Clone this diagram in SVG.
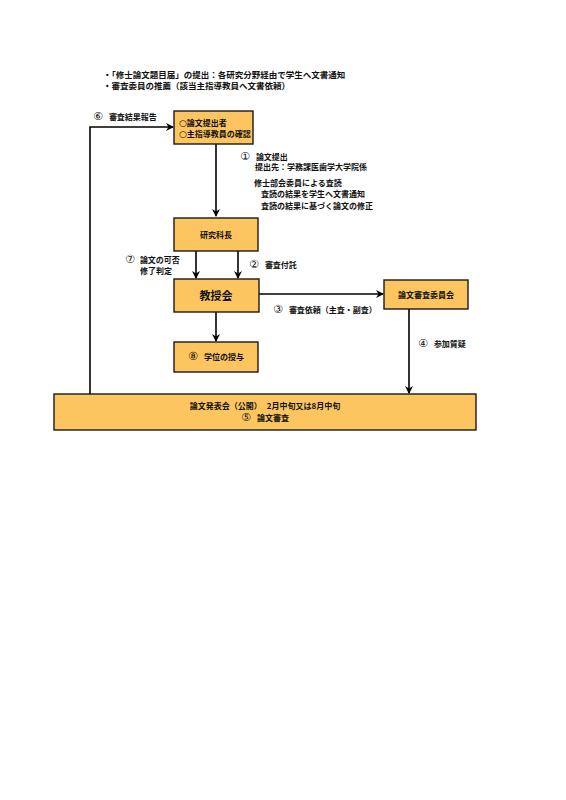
<svg xmlns="http://www.w3.org/2000/svg" width="566" height="800" viewBox="0 0 566 800">
<defs>
<marker id="ah" markerWidth="8" markerHeight="8" refX="7" refY="4" orient="auto" markerUnits="userSpaceOnUse">
<path d="M0,0 L8,4 L0,8 L2.5,4 Z" fill="#000"/>
</marker>
<style>
.box{fill:#FCC55F;stroke:#1a1a1a;stroke-width:1.4}
.t{font-family:"Noto Sans CJK JP","Noto Sans CJK SC",sans-serif;font-size:8px;font-weight:bold;fill:#111}
.n{font-size:8.5px}
.tl{font-family:"Noto Sans CJK JP","Noto Sans CJK SC",sans-serif;font-size:11px;font-weight:bold;fill:#111}
.c{text-anchor:middle}
.num{font-family:"DejaVu Sans",sans-serif;font-size:11px;font-weight:normal}
.ln{fill:none;stroke:#000;stroke-width:1.6}
</style>
</defs>
<rect width="566" height="800" fill="#fff"/>
<g id="notes">
<text class="t n" x="103" y="78">・「修士論文題目届」の提出：各研究分野経由で学生へ文書通知</text>
<text class="t n" x="103" y="89">・審査委員の推薦（該当主指導教員へ文書依頼）</text>
</g>
<g id="connectors">
<line class="ln" x1="216" y1="144" x2="216" y2="216" marker-end="url(#ah)"/>
<line class="ln" x1="196" y1="251" x2="196" y2="278" marker-end="url(#ah)"/>
<line class="ln" x1="238" y1="251" x2="238" y2="278" marker-end="url(#ah)"/>
<line class="ln" x1="216" y1="312" x2="216" y2="341" marker-end="url(#ah)"/>
<line class="ln" x1="259" y1="294" x2="383" y2="294" marker-end="url(#ah)"/>
<line class="ln" x1="409" y1="309" x2="409" y2="393" marker-end="url(#ah)"/>
<polyline class="ln" points="90,394 90,127 173,127" marker-end="url(#ah)"/>
<text class="t" x="93" y="120"><tspan class="num">⑥</tspan><tspan dx="6">審査結果報告</tspan></text>
<text class="t" x="240" y="160"><tspan class="num">①</tspan><tspan dx="6">論文提出</tspan></text>
<text class="t" x="255" y="170">提出先：学務課医歯学大学院係</text>
<text class="t" x="254" y="186">修士部会委員による査読</text>
<text class="t" x="261" y="197">査読の結果を学生へ文書通知</text>
<text class="t" x="261" y="209">査読の結果に基づく論文の修正</text>
<text class="t" x="125" y="263"><tspan class="num">⑦</tspan><tspan dx="5">論文の可否</tspan></text>
<text class="t" x="140" y="274">修了判定</text>
<text class="t" x="249" y="268"><tspan class="num">②</tspan><tspan dx="6">審査付託</tspan></text>
<text class="t" x="273" y="313"><tspan class="num">③</tspan><tspan dx="6">審査依頼（主査・副査）</tspan></text>
<text class="t" x="418" y="347"><tspan class="num">④</tspan><tspan dx="6">参加質疑</tspan></text>
</g>
<g id="n_submit">
<rect class="box" x="174" y="111" width="79" height="33"/>
<text class="t" x="179" y="126"><tspan class="num" style="font-size:9px">○</tspan>論文提出者</text>
<text class="t" x="179" y="137"><tspan class="num" style="font-size:9px">○</tspan>主指導教員の確認</text>
</g>
<g id="n_dean">
<rect class="box" x="174" y="218" width="84" height="33"/>
<text class="t c" x="216" y="238">研究科長</text>
</g>
<g id="n_faculty">
<rect class="box" x="174" y="279" width="85" height="33"/>
<text class="tl c" x="216" y="300">教授会</text>
</g>
<g id="n_degree">
<rect class="box" x="174" y="342" width="84" height="30"/>
<text class="t c" x="216" y="360"><tspan class="num">⑧</tspan><tspan dx="6">学位の授与</tspan></text>
</g>
<g id="n_committee">
<rect class="box" x="384" y="280" width="84" height="29"/>
<text class="t c" x="426" y="298">論文審査委員会</text>
</g>
<g id="n_presentation">
<rect class="box" x="54" y="394" width="422" height="36"/>
<text class="t c" x="265" y="409">論文発表会（公開）<tspan dx="5">2月中旬又は8月中旬</tspan></text>
<text class="t c" x="265" y="421"><tspan class="num">⑤</tspan><tspan dx="6">論文審査</tspan></text>
</g>
</svg>
